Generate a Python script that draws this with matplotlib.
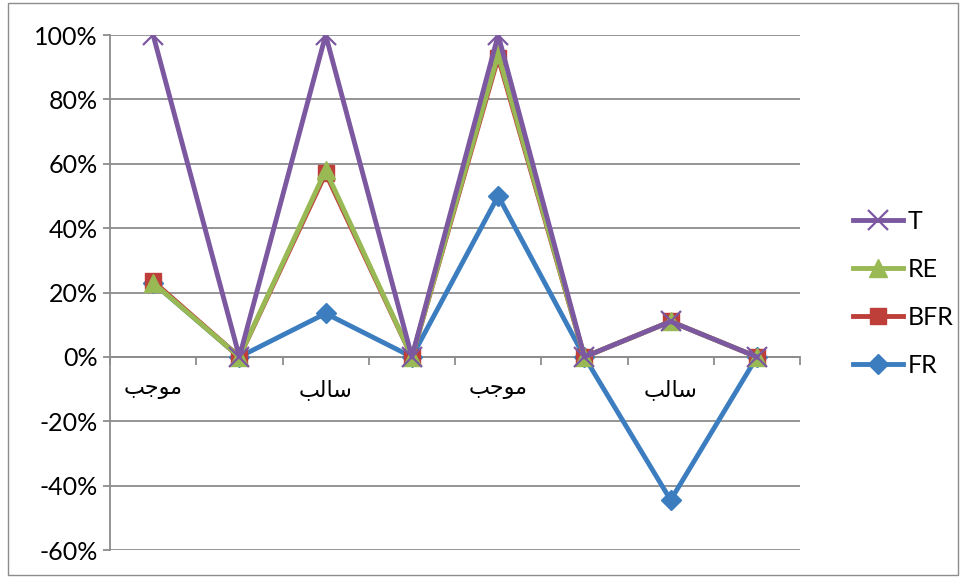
import matplotlib
matplotlib.use("Agg")
import matplotlib.pyplot as plt
from matplotlib.ticker import PercentFormatter, FixedLocator
from matplotlib.patches import Rectangle

# data (percent)
categories = ["موجب", "", "سالب", "", "موجب", "", "سالب", ""]
T = [100, 0, 100, 0, 100, 0, 11, 0]
RE = [23, 0, 58, 0, 94, 0, 11, 0]
BFR = [23.5, 0, 57, 0, 93, 0, 11, 0]
FR = [23, 0, 13.5, 0, 50, 0, -44.5, 0]
y_ticks = [-60, -40, -20, 0, 20, 40, 60, 80, 100]

plt.rcParams['font.family'] = ['Lato', 'DejaVu Sans']
plt.rcParams['axes.unicode_minus'] = False

# matplotlib has no arabic shaping, so pick the joined forms by hand
# letter: (isolated, final, initial, medial)
FORMS = {
    'ا': ('\uFE8D', '\uFE8E', None, None),
    'ب': ('\uFE8F', '\uFE90', '\uFE91', '\uFE92'),
    'ج': ('\uFE9D', '\uFE9E', '\uFE9F', '\uFEA0'),
    'س': ('\uFEB1', '\uFEB2', '\uFEB3', '\uFEB4'),
    'ل': ('\uFEDD', '\uFEDE', '\uFEDF', '\uFEE0'),
    'م': ('\uFEE1', '\uFEE2', '\uFEE3', '\uFEE4'),
    'و': ('\uFEED', '\uFEEE', None, None),
}


def shape(word):
    out = []
    for i, c in enumerate(word):
        f = FORMS.get(c)
        if f is None:
            out.append(c)
            continue
        prev_joins = i > 0 and FORMS.get(word[i-1], (None,)*4)[2] is not None
        next_joins = i < len(word)-1 and f[2] is not None and word[i+1] in FORMS
        if prev_joins and next_joins:
            out.append(f[3])
        elif prev_joins:
            out.append(f[1])
        elif next_joins:
            out.append(f[2])
        else:
            out.append(f[0])
    return "".join(reversed(out))


grid_col = "#8c8c8c"
fig = plt.figure(figsize=(9.6, 5.78), dpi=100)
ax = fig.add_axes([0.1146, 0.0484, 0.7188, 0.891])

x = range(len(categories))
lw = 3.5
ax.plot(x, FR, color="#3C7DC0", lw=lw, marker="D", ms=10, label="FR", zorder=3)
ax.plot(x, BFR, color="#BE3F3A", lw=lw, marker="s", ms=12, label="BFR", zorder=4)
ax.plot(x, RE, color="#98B954", lw=lw, marker="^", ms=13, label="RE", zorder=5)
ax.plot(x, T, color="#7B58A0", lw=lw, marker="x", ms=15, mew=1.6, label="T", zorder=6)

ax.set_xlim(-0.5, len(categories) - 0.5)
ax.set_ylim(-60, 100)
ax.yaxis.set_major_locator(FixedLocator(y_ticks))
ax.yaxis.set_major_formatter(PercentFormatter(xmax=100, decimals=0))
ax.grid(axis="y", color=grid_col, lw=1.3)
ax.set_axisbelow(True)

for s in ["top", "right"]:
    ax.spines[s].set_visible(False)
ax.spines["left"].set_color(grid_col)
ax.spines["left"].set_linewidth(1.3)
ax.spines["bottom"].set_position(("data", 0))
ax.spines["bottom"].set_color(grid_col)
ax.spines["bottom"].set_linewidth(1.3)

ax.tick_params(axis="y", length=5, width=1.3, color=grid_col, labelsize=18, pad=4)
ax.set_xticks(list(x))
ax.set_xticklabels([shape(c) for c in categories], family="DejaVu Sans", fontsize=16)
ax.set_xticks([i - 0.5 for i in range(len(categories) + 1)], minor=True)
ax.tick_params(axis="x", which="major", length=0, pad=16)
ax.tick_params(axis="x", which="minor", length=6, width=1.3, color=grid_col, direction="out")

h, l = ax.get_legend_handles_labels()
order = [3, 2, 1, 0]
fig.legend([h[i] for i in order], [l[i] for i in order], loc="center left",
           bbox_to_anchor=(0.875, 0.493), frameon=False, fontsize=18,
           handlelength=2.0, handletextpad=0.2, labelspacing=1.0, borderpad=0)

fig.patches.append(Rectangle((8/960, 3/578), 950/960, 572/578, transform=fig.transFigure,
                             fill=False, edgecolor="#8c8c8c", lw=1))

fig.savefig("out.png", dpi=100)
